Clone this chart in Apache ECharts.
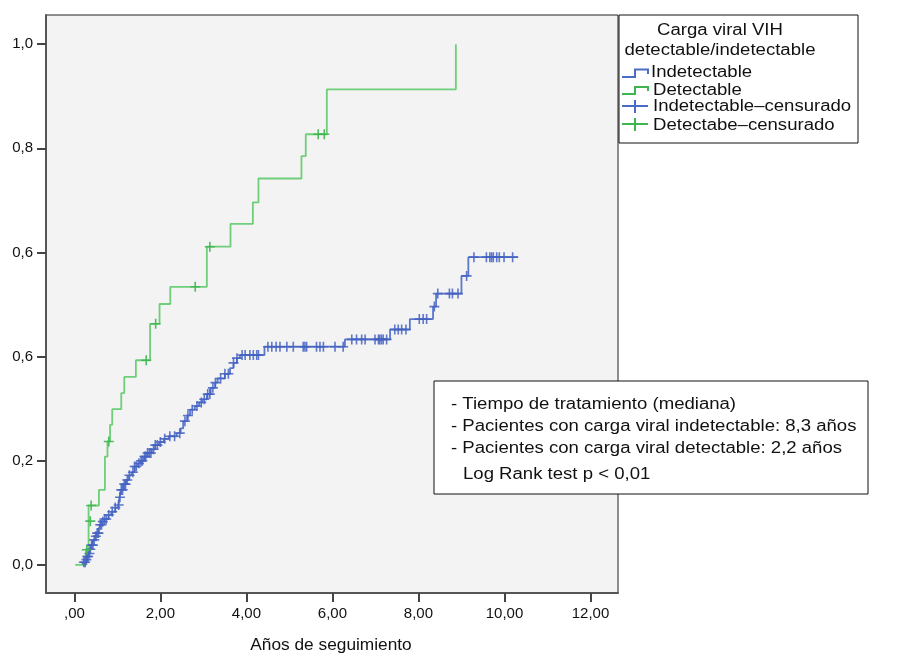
<!DOCTYPE html>
<html>
<head>
<meta charset="utf-8">
<script src="https://cdn.jsdelivr.net/npm/echarts@6/dist/echarts.min.js"></script>
<style>
html,body{margin:0;padding:0;background:#fff;}
#chart{width:898px;height:656px;}
</style>
</head>
<body>
<div id="chart"></div>
<script>
// ---- data ----
const xTicks = [0, 2, 4, 6, 8, 10, 12];
const xTickLabels = [',00', '2,00', '4,00', '6,00', '8,00', '10,00', '12,00'];
const yTicks = [0, 0.2, 0.4, 0.6, 0.8, 1.0];
const yTickLabels = ['0,0', '0,2', '0,6', '0,6', '0,8', '1,0'];

// Detectable (green) step curve: event time, cumulative value after event
const greenTimes  = [0.02, 0.27, 0.33, 0.57, 0.71, 0.77, 0.83, 0.88, 1.09, 1.16, 1.43, 1.76, 1.98, 2.23, 3.08, 3.63, 4.15, 4.28, 5.28, 5.38, 5.87, 8.87];
const greenValues = [0.0, 0.029, 0.114, 0.144, 0.208, 0.237, 0.269, 0.299, 0.330, 0.361, 0.393, 0.463, 0.501, 0.534, 0.611, 0.655, 0.696, 0.742, 0.785, 0.827, 0.913, 1.0];
const greenCensorTimes  = [0.29, 0.37, 0.39, 0.80, 1.67, 1.89, 2.81, 3.15, 5.67, 5.81];
const greenCensorValues = [0.029, 0.084, 0.114, 0.237, 0.393, 0.463, 0.534, 0.611, 0.827, 0.827];

// Indetectable (blue) step curve
const blueTimes  = [0.17, 0.21, 0.27, 0.30, 0.33, 0.36, 0.40, 0.44, 0.49, 0.52, 0.57, 0.60, 0.65, 0.70, 0.79, 0.86, 0.95, 1.02, 1.05, 1.08, 1.14, 1.20, 1.27, 1.33, 1.40, 1.48, 1.54, 1.62, 1.70, 1.80, 1.88, 1.97, 2.08, 2.19, 2.38, 2.47, 2.53, 2.62, 2.69, 2.80, 2.90, 2.98, 3.08, 3.17, 3.27, 3.33, 3.50, 3.62, 3.70, 3.78, 3.85, 4.42, 6.29, 7.34, 7.80, 8.34, 8.41, 9.00, 9.16, 10.32];
const blueValues = [0.0, 0.005, 0.010, 0.016, 0.022, 0.030, 0.038, 0.048, 0.055, 0.061, 0.070, 0.077, 0.083, 0.088, 0.096, 0.102, 0.110, 0.115, 0.130, 0.144, 0.155, 0.163, 0.172, 0.178, 0.189, 0.195, 0.200, 0.208, 0.215, 0.222, 0.230, 0.236, 0.242, 0.247, 0.253, 0.262, 0.276, 0.287, 0.298, 0.305, 0.312, 0.318, 0.328, 0.340, 0.350, 0.358, 0.367, 0.378, 0.388, 0.397, 0.403, 0.419, 0.433, 0.452, 0.472, 0.496, 0.521, 0.555, 0.591, 0.591];
const blueCensorTimes = [0.22, 0.25, 0.28, 0.30, 0.32, 0.35, 0.37, 0.40, 0.43, 0.46, 0.50, 0.53, 0.56, 0.60, 0.63, 0.66, 0.70, 0.74, 0.80, 0.88, 0.95, 1.03, 1.06, 1.09, 1.12, 1.16, 1.19, 1.23, 1.28, 1.36, 1.40, 1.44, 1.50, 1.55, 1.58, 1.63, 1.66, 1.70, 1.74, 1.78, 1.84, 1.88, 1.93, 2.00, 2.10, 2.22, 2.33, 2.45, 2.57, 2.64, 2.74, 2.85, 2.95, 3.02, 3.10, 3.15, 3.22, 3.28, 3.40, 3.50, 3.58, 3.70, 3.78,
  3.90, 3.97, 4.08, 4.16, 4.24, 4.28,
  4.50, 4.59, 4.69, 4.78, 4.94, 5.09, 5.32, 5.36, 5.40, 5.63, 5.71, 5.79, 6.06, 6.25,
  6.45, 6.56, 6.68, 6.76, 6.99, 7.07, 7.10, 7.14, 7.18, 7.26,
  7.45, 7.53, 7.61, 7.71,
  8.02, 8.11, 8.19, 8.37,
  8.45, 8.72, 8.79, 8.92, 9.12,
  9.29, 9.58, 9.66, 9.70, 9.74, 9.82, 9.88, 9.99, 10.19];

const legendTitle = ['Carga viral VIH', 'detectable/indetectable'];
const legendNames = ['Indetectable', 'Detectable', 'Indetectable\u2013censurado', 'Detectabe\u2013censurado'];
const noteLines = ['- Tiempo de tratamiento (mediana)', '- Pacientes con carga viral indetectable: 8,3 años', '- Pacientes con carga viral detectable: 2,2 años', 'Log Rank test p < 0,01'];
const xName = 'Años de seguimiento';

// ---- build ----
function zip(a, b) { return a.map((v, i) => [v, b[i]]); }
function stepValue(times, values, t) {
  let v = values[0];
  for (let i = 0; i < times.length; i++) { if (times[i] <= t + 1e-9) v = values[i]; }
  return v;
}
const blueCensor = blueCensorTimes.map(t => [t, stepValue(blueTimes, blueValues, t)]);
const greenCensor = zip(greenCensorTimes, greenCensorValues);

const GREEN = '#5fca6c', GREEN_D = '#3fb550';
const BLUE = '#4a6cc6', BLUE_D = '#4462c2';
const plus = 'path://M4.2,0H5.8V4.2H10V5.8H5.8V10H4.2V5.8H0V4.2H4.2Z';
const FONT = 'Liberation Sans, Arial, Helvetica, sans-serif';
const SX = 1.16;

function txt(x, y, s, align, sx) {
  return {type: 'text', x: x, y: y, scaleX: sx || SX, originX: 0, originY: 0,
    style: {text: s, font: '16px ' + FONT, fill: '#111', align: align || 'left', verticalAlign: 'middle'}, z: 11};
}

const chart = echarts.init(document.getElementById('chart'), null, {renderer: 'canvas'});
const lx = 619, ly = 15;
chart.setOption({
  animation: false,
  backgroundColor: '#ffffff',
  textStyle: {fontFamily: FONT},
  grid: {left: 46, top: 15, width: 572, height: 578, show: true, backgroundColor: '#f3f3f3', borderColor: '#222', borderWidth: 1},
  xAxis: {
    type: 'value', min: -0.66, max: 12.64,
    splitLine: {show: false},
    axisLine: {show: true, onZero: false, lineStyle: {color: '#555', width: 2}},
    axisTick: {show: true, customValues: xTicks, length: 9, lineStyle: {color: '#444', width: 2}},
    axisLabel: {customValues: xTicks, margin: 13, color: '#111', fontSize: 15, fontFamily: FONT,
      formatter: v => xTickLabels[xTicks.indexOf(Math.round(v))] || ''}
  },
  yAxis: {
    type: 'value', min: -0.054, max: 1.056,
    splitLine: {show: false},
    axisLine: {show: true, onZero: false, lineStyle: {color: '#555', width: 2}},
    axisTick: {show: true, customValues: yTicks, length: 9, lineStyle: {color: '#444', width: 2}},
    axisLabel: {customValues: yTicks, margin: 13, color: '#111', fontSize: 15, fontFamily: FONT,
      formatter: v => yTickLabels[yTicks.findIndex(t => Math.abs(t - v) < 1e-6)] || ''}
  },
  series: [
    {type: 'line', name: legendNames[0], step: 'end', data: zip(blueTimes, blueValues), showSymbol: false,
      lineStyle: {color: BLUE, width: 1.8, opacity: 0.9}, z: 2},
    {type: 'line', name: legendNames[1], step: 'end', data: zip(greenTimes, greenValues), showSymbol: false,
      lineStyle: {color: GREEN, width: 1.8, opacity: 0.9}, z: 2},
    {type: 'scatter', name: legendNames[2], data: blueCensor, symbol: plus, symbolSize: 10,
      itemStyle: {color: BLUE_D, opacity: 0.85}, z: 3},
    {type: 'scatter', name: legendNames[3], data: greenCensor, symbol: plus, symbolSize: 10,
      itemStyle: {color: GREEN_D, opacity: 0.9}, z: 3}
  ],
  graphic: [
    // axis name
    txt(331, 646, xName, 'center', 1.08),
    // legend
    {type: 'rect', shape: {x: lx, y: ly, width: 239, height: 128}, style: {fill: '#fff', stroke: '#111', lineWidth: 1}, z: 10},
    txt(720, 31, legendTitle[0], 'center'),
    txt(720, 51, legendTitle[1], 'center'),
    {type: 'polyline', shape: {points: [[622, 77], [635, 77], [635, 69.5], [648, 69.5], [648, 74]]}, style: {stroke: BLUE, lineWidth: 2, fill: null}, z: 11},
    {type: 'polyline', shape: {points: [[622, 94], [635, 94], [635, 87], [648, 87], [648, 91]]}, style: {stroke: GREEN_D, lineWidth: 2, fill: null}, z: 11},
    {type: 'line', shape: {x1: 622, y1: 106, x2: 648, y2: 106}, style: {stroke: BLUE, lineWidth: 2}, z: 11},
    {type: 'line', shape: {x1: 635, y1: 100, x2: 635, y2: 113}, style: {stroke: BLUE, lineWidth: 2}, z: 11},
    {type: 'line', shape: {x1: 622, y1: 124, x2: 648, y2: 124}, style: {stroke: GREEN_D, lineWidth: 2}, z: 11},
    {type: 'line', shape: {x1: 635, y1: 118, x2: 635, y2: 131}, style: {stroke: GREEN_D, lineWidth: 2}, z: 11},
    txt(651, 73, legendNames[0]),
    txt(653, 91, legendNames[1]),
    txt(653, 107, legendNames[2]),
    txt(653, 126, legendNames[3]),
    // note box
    {type: 'rect', shape: {x: 434, y: 381, width: 434, height: 113}, style: {fill: '#fff', stroke: '#111', lineWidth: 1}, z: 10},
    txt(451, 405, noteLines[0]),
    txt(451, 427, noteLines[1]),
    txt(451, 449, noteLines[2]),
    txt(463, 475, noteLines[3])
  ]
});
</script>
</body>
</html>
